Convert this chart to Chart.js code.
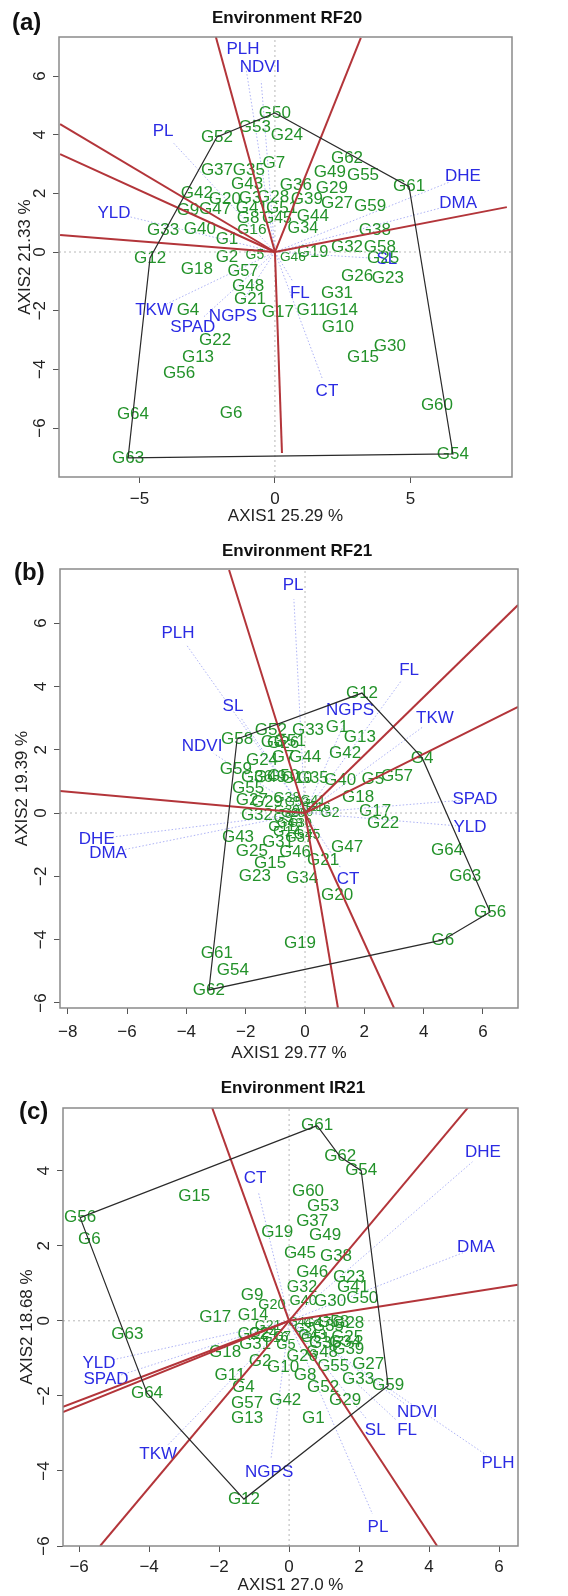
<!DOCTYPE html>
<html>
<head>
<meta charset="utf-8">
<title>GGE biplots RF20 / RF21 / IR21</title>
<script src="https://cdn.jsdelivr.net/npm/chart.js@4.4.1/dist/chart.umd.min.js"></script>
<style>
  html, body { margin: 0; padding: 0; background: #fff; }
  #wrap { position: relative; width: 568px; height: 1596px; }
  #wrap canvas { position: absolute; left: 0; }
</style>
</head>
<body>
<div id="wrap">
  <canvas id="panelA" width="568" height="540" style="top:0px;width:568px;height:540px"></canvas>
  <canvas id="panelB" width="568" height="540" style="top:530px;width:568px;height:540px"></canvas>
  <canvas id="panelC" width="568" height="536" style="top:1060px;width:568px;height:536px"></canvas>
</div>
<script>
// genotype names, same order for all three environments
const genotypes = [
  'G1','G2','G3','G4','G5','G6','G7','G8','G9','G10','G11','G12','G13','G14','G15','G16',
  'G17','G18','G19','G20','G21','G22','G23','G24','G25','G26','G27','G28','G29','G30','G31','G32',
  'G33','G34','G35','G36','G37','G38','G39','G40','G41','G42','G43','G44','G45','G46','G47','G48',
  'G49','G50','G51','G52','G53','G54','G55','G56','G57','G58','G59','G60','G61','G62','G63','G64'
];
const traits = ['PLH','NDVI','PL','YLD','DHE','DMA','SL','FL','TKW','NGPS','SPAD','CT'];

// --- Environment RF20 ---
const rf20X = [
  -1.77,-1.77,-0.92,-3.21,-0.74,-1.62,-0.04,-0.99,-3.21,2.32,1.37,-4.61,-2.84,2.47,3.25,-0.85,
  0.11,-2.88,1.40,-1.85,-0.92,-2.21,4.17,0.44,3.99,3.03,2.29,-0.07,2.10,4.24,2.29,2.66,
  -4.13,1.03,-0.96,0.77,-2.14,3.69,1.18,-2.77,-0.85,-2.88,-1.03,1.40,0.07,0.66,-2.21,-0.99,
  2.03,0.00,0.26,-2.14,-0.74,6.57,3.25,-3.54,-1.18,3.87,3.51,5.98,4.95,2.66,-5.42,-5.24
];
const rf20Y = [
  0.43,-0.17,1.84,-1.98,-0.10,-5.49,3.03,1.15,1.41,-2.55,-1.98,-0.20,-3.58,-1.98,-3.58,0.75,
  -2.04,-0.58,0.00,1.81,-1.60,-3.00,-0.89,3.99,-0.20,-0.82,1.66,1.88,2.17,-3.20,-1.40,0.17,
  0.75,0.81,2.77,2.28,2.77,0.75,1.81,0.77,1.49,2.00,2.32,1.22,1.12,-0.17,1.46,-1.16,
  2.73,4.74,1.49,3.92,4.26,-6.88,2.60,-4.12,-0.68,0.17,1.55,-5.21,2.23,3.20,-7.02,-5.52
];
const rf20TraitX = [-1.18,-0.55,-4.13,-5.94,6.94,6.76,4.13,0.92,-4.46,-1.55,-3.03,1.92];
const rf20TraitY = [6.92,6.31,4.10,1.33,2.57,1.66,-0.24,-1.40,-1.98,-2.18,-2.55,-4.74];
const rf20Hull = ['G50','G61','G54','G63','G12','G52'];
const rf20RayX = [-2.18,3.17,-7.93,-7.93,-7.93,8.56,0.26];
const rf20RayY = [7.33,7.30,4.36,3.34,0.58,1.53,-6.85];
const rf20XRange = [-7.97, 8.75];
const rf20YRange = [-7.67, 7.33];
const rf20XTicks = [-5, 0, 5];
const rf20YTicks = [-6, -4, -2, 0, 2, 4, 6];

// --- Environment RF21 ---
const rf21X = [
  1.08,0.84,-1.11,3.95,2.29,4.65,-0.74,0.17,-0.74,-0.27,-0.78,1.92,1.85,-0.61,-1.18,0.44,
  2.36,1.79,-0.17,1.08,0.61,2.63,-1.69,-1.45,-1.79,-0.74,-1.79,-0.40,-1.28,-0.17,-0.91,-1.62,
  0.10,-0.10,0.27,-1.62,-0.20,-0.61,-0.61,1.18,0.27,1.35,-2.26,0.00,0.07,-0.34,1.42,-0.51,
  -1.18,-0.74,-0.51,-1.15,-0.27,-2.43,-1.92,6.24,3.10,-2.29,-2.33,-0.10,-2.97,-3.24,5.40,4.79
];
const rf21Y = [
  2.72,0.00,2.24,1.74,1.07,-4.01,1.77,0.16,-0.16,1.10,-0.44,3.79,2.40,-0.60,-1.58,0.19,
  0.06,0.51,-4.11,-2.59,-1.48,-0.32,-1.99,1.67,-1.20,2.20,0.41,0.00,0.35,-0.32,-0.92,-0.06,
  2.62,-2.05,1.10,1.14,-0.80,0.47,0.10,1.04,0.41,1.90,-0.76,1.77,-0.70,-1.23,-1.07,-0.32,
  1.14,1.17,2.27,2.62,0.35,-4.96,0.79,-3.13,1.17,2.34,1.39,0.00,-4.42,-5.59,-1.99,-1.17
];
const rf21TraitX = [-4.28,-3.47,-0.40,5.56,-7.02,-6.64,-2.43,3.51,4.38,1.52,5.73,1.45];
const rf21TraitY = [5.69,2.12,7.20,-0.44,-0.82,-1.26,3.38,4.52,3.00,3.25,0.44,-2.09];
const rf21Hull = ['G58','G12','G4','G56','G6','G62'];
const rf21RayX = [-2.56,7.18,7.18,-8.26,1.11,3.00];
const rf21RayY = [7.68,6.57,3.35,0.70,-6.16,-6.16];
const rf21XRange = [-8.26, 7.18];
const rf21YRange = [-6.16, 7.71];
const rf21XTicks = [-8, -6, -4, -2, 0, 2, 4, 6];
const rf21YTicks = [-6, -4, -2, 0, 2, 4, 6];

// --- Environment IR21 ---
const ir21X = [
  0.69,-0.83,0.40,-1.31,-0.09,-5.71,-0.20,0.46,-1.06,-0.17,-1.69,-1.29,-1.20,-1.03,-2.71,-0.40,
  -2.11,-1.83,-0.34,-0.49,-0.60,-1.03,1.71,-0.74,1.66,0.37,2.26,1.69,1.60,1.17,-0.97,0.37,
  1.97,1.60,1.11,1.03,0.66,1.34,1.69,0.40,1.83,-0.11,0.66,0.31,0.31,0.66,0.80,0.94,
  1.03,2.09,0.75,0.97,0.97,2.06,1.26,-5.97,-1.20,1.26,2.83,0.54,0.80,1.46,-4.62,-4.06
];
const ir21Y = [
  -2.59,-1.09,-0.20,-1.76,-0.64,2.16,-0.40,-1.44,0.67,-1.25,-1.44,-4.75,-2.61,0.13,3.31,-0.45,
  0.08,-0.85,2.37,0.43,-0.15,-0.37,1.15,-0.32,-0.43,-0.96,-1.17,-0.08,-2.13,0.53,-0.64,0.88,
  -1.57,-0.56,-0.16,-0.59,2.64,1.71,-0.77,0.53,0.88,-2.13,-0.37,-0.05,1.79,1.28,-0.05,-0.85,
  2.29,0.59,-0.45,-1.76,3.04,4.00,-1.20,2.75,-2.21,-0.03,-1.73,3.44,5.20,4.37,-0.37,-1.92
];
const ir21TraitX = [5.97,3.66,2.54,-5.43,5.54,5.34,2.46,3.37,-3.74,-0.57,-5.23,-0.97];
const ir21TraitY = [-3.79,-2.45,-5.49,-1.12,4.48,1.95,-2.91,-2.91,-3.57,-4.05,-1.57,3.79];
const ir21Hull = ['G61','G62','G54','G59','G12','G64','G56'];
const ir21RayX = [-2.20,5.11,6.54,-6.46,-6.46,-5.40,4.23];
const ir21RayY = [5.68,5.68,0.96,-2.29,-2.43,-6.00,-6.00];
const ir21XRange = [-6.46, 6.54];
const ir21YRange = [-6.00, 5.67];
const ir21XTicks = [-6, -4, -2, 0, 2, 4, 6];
const ir21YTicks = [-6, -4, -2, 0, 2, 4];

const FONT = '"Liberation Sans", Arial, Helvetica, sans-serif';
const GREEN = '#23922a';
const BLUE = '#2b2be3';
const RED = '#b3353a';

Chart.defaults.font.family = FONT;

function minus(v) {
  return String(v).replace('-', '\u2212');
}

// text labels, trait vectors, box and panel headings
function biplotPlugin(p) {
  return {
    id: 'biplot' + p.id,
    beforeDatasetsDraw(chart) {
      const { ctx, chartArea, scales: { x, y } } = chart;
      const ox = x.getPixelForValue(0);
      const oy = y.getPixelForValue(0);
      ctx.save();
      ctx.beginPath();
      ctx.rect(chartArea.left, chartArea.top, chartArea.right - chartArea.left, chartArea.bottom - chartArea.top);
      ctx.clip();

      // dotted trait vectors
      ctx.strokeStyle = 'rgba(120,128,238,0.6)';
      ctx.lineWidth = 1;
      ctx.setLineDash([1.5, 2]);
      p.tx.forEach((tx, i) => {
        const px = x.getPixelForValue(tx);
        const py = y.getPixelForValue(p.ty[i]);
        const d = Math.hypot(px - ox, py - oy);
        const k = (d - 14) / d;
        ctx.beginPath();
        ctx.moveTo(ox, oy);
        ctx.lineTo(ox + (px - ox) * k, oy + (py - oy) * k);
        ctx.stroke();
      });
      ctx.setLineDash([]);

      ctx.textAlign = 'center';
      ctx.textBaseline = 'middle';
      ctx.fillStyle = BLUE;
      ctx.font = '17px ' + FONT;
      traits.forEach((t, i) => {
        ctx.fillText(t, x.getPixelForValue(p.tx[i]), y.getPixelForValue(p.ty[i]));
      });

      ctx.fillStyle = GREEN;
      genotypes.forEach((g, i) => {
        const px = x.getPixelForValue(p.gx[i]);
        const py = y.getPixelForValue(p.gy[i]);
        const r = Math.hypot(px - ox, py - oy);
        // labels crowded round the origin are printed smaller
        const size = r >= 42 ? 17 : 11 + 6 * r / 42;
        ctx.font = size.toFixed(1) + 'px ' + FONT;
        ctx.fillText(g, px, py);
      });
      ctx.restore();
    },
    afterDraw(chart) {
      const { ctx, chartArea, scales: { y } } = chart;
      ctx.save();
      ctx.strokeStyle = '#8a8a8a';
      ctx.lineWidth = 1.5;
      ctx.strokeRect(chartArea.left, chartArea.top, chartArea.right - chartArea.left, chartArea.bottom - chartArea.top);

      // y tick labels, rotated like base R
      ctx.fillStyle = '#222';
      ctx.font = '17px ' + FONT;
      ctx.textAlign = 'center';
      ctx.textBaseline = 'middle';
      p.yTicks.forEach((v) => {
        ctx.save();
        ctx.translate(chartArea.left - 19, y.getPixelForValue(v));
        ctx.rotate(-Math.PI / 2);
        ctx.fillText(minus(v), 0, 0);
        ctx.restore();
      });

      ctx.fillStyle = '#111';
      ctx.font = 'bold 17px ' + FONT;
      ctx.fillText(p.title, p.box.titleX, p.box.titleY);
      ctx.textAlign = 'left';
      ctx.font = 'bold 24px ' + FONT;
      ctx.fillText(p.letter, p.box.letterX, p.box.letterY);
      ctx.restore();
    }
  };
}

function makePanel(p) {
  const pt = (name) => {
    const i = genotypes.indexOf(name);
    return { x: p.gx[i], y: p.gy[i] };
  };
  const hullData = p.hull.map(pt);
  hullData.push(pt(p.hull[0]));

  const datasets = [
    { data: [{ x: p.xRange[0], y: 0 }, { x: p.xRange[1], y: 0 }], borderColor: '#b8b8b8', borderDash: [2, 3], borderWidth: 1, order: 3 },
    { data: [{ x: 0, y: p.yRange[0] }, { x: 0, y: p.yRange[1] }], borderColor: '#b8b8b8', borderDash: [2, 3], borderWidth: 1, order: 3 }
  ];
  p.rx.forEach((rx, i) => {
    datasets.push({ data: [{ x: 0, y: 0 }, { x: rx, y: p.ry[i] }], borderColor: RED, borderWidth: 2, order: 1 });
  });
  datasets.push({ data: hullData, borderColor: '#2a2a2a', borderWidth: 1.2, order: 0 });
  datasets.forEach((d) => { d.showLine = true; d.pointRadius = 0; d.fill = false; d.tension = 0; });

  const b = p.box;
  return new Chart(document.getElementById(p.id), {
    type: 'scatter',
    data: { datasets },
    options: {
      responsive: false,
      animation: false,
      events: [],
      layout: { padding: b.pad },
      plugins: { legend: { display: false }, tooltip: { enabled: false }, title: { display: false } },
      scales: {
        x: {
          type: 'linear', min: p.xRange[0], max: p.xRange[1],
          afterBuildTicks: (s) => { s.ticks = p.xTicks.map((v) => ({ value: v })); },
          afterFit: (s) => { s.height = b.xH; },
          ticks: { color: '#222', font: { size: 17 }, padding: b.tickPad, maxRotation: 0, autoSkip: false, callback: (v) => minus(v) },
          grid: { drawOnChartArea: false, drawTicks: true, tickLength: 6, tickColor: '#555', tickWidth: 1 },
          border: { display: false },
          title: { display: true, text: p.xTitle, color: '#222', font: { size: 17 }, padding: { top: 0, bottom: 0 } }
        },
        y: {
          type: 'linear', min: p.yRange[0], max: p.yRange[1],
          afterBuildTicks: (s) => { s.ticks = p.yTicks.map((v) => ({ value: v })); },
          afterFit: (s) => { s.width = b.yW; },
          ticks: { display: false },
          grid: { drawOnChartArea: false, drawTicks: true, tickLength: 6, tickColor: '#555', tickWidth: 1 },
          border: { display: false },
          title: { display: true, text: p.yTitle, color: '#222', font: { size: 17 }, padding: { top: 0, bottom: 0 } }
        }
      }
    },
    plugins: [biplotPlugin(p)]
  });
}

const panels = [
  {
    id: 'panelA', title: 'Environment RF20', letter: '(a)', xTitle: 'AXIS1 25.29 %', yTitle: 'AXIS2 21.33 %',
    gx: rf20X, gy: rf20Y, tx: rf20TraitX, ty: rf20TraitY, hull: rf20Hull, rx: rf20RayX, ry: rf20RayY,
    xRange: rf20XRange, yRange: rf20YRange, xTicks: rf20XTicks, yTicks: rf20YTicks,
    box: { pad: { left: 15, top: 37, right: 56, bottom: 13 }, yW: 44, xH: 50, tickPad: 6, titleX: 287, titleY: 18, letterX: 12, letterY: 23 }
  },
  {
    id: 'panelB', title: 'Environment RF21', letter: '(b)', xTitle: 'AXIS1 29.77 %', yTitle: 'AXIS2 19.39 %',
    gx: rf21X, gy: rf21Y, tx: rf21TraitX, ty: rf21TraitY, hull: rf21Hull, rx: rf21RayX, ry: rf21RayY,
    xRange: rf21XRange, yRange: rf21YRange, xTicks: rf21XTicks, yTicks: rf21YTicks,
    box: { pad: { left: 12, top: 39, right: 50, bottom: 6 }, yW: 48, xH: 56, tickPad: 8, titleX: 297, titleY: 21, letterX: 14, letterY: 43 }
  },
  {
    id: 'panelC', title: 'Environment IR21', letter: '(c)', xTitle: 'AXIS1 27.0 %', yTitle: 'AXIS2 18.68 %',
    gx: ir21X, gy: ir21Y, tx: ir21TraitX, ty: ir21TraitY, hull: ir21Hull, rx: ir21RayX, ry: ir21RayY,
    xRange: ir21XRange, yRange: ir21YRange, xTicks: ir21XTicks, yTicks: ir21YTicks,
    box: { pad: { left: 17, top: 48, right: 50, bottom: 0 }, yW: 46, xH: 50, tickPad: 5, titleX: 293, titleY: 28, letterX: 19, letterY: 52 }
  }
];

panels.forEach(makePanel);
</script>
</body>
</html>
